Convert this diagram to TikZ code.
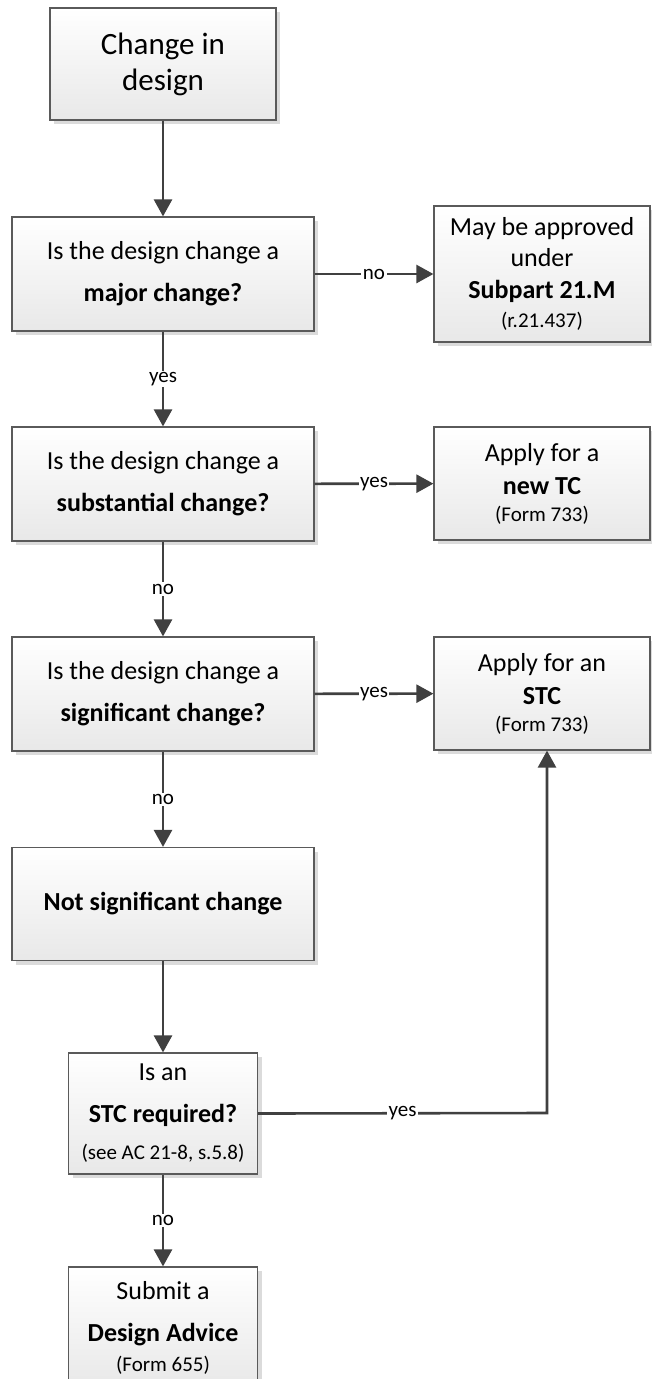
\documentclass[tikz,border=0pt]{standalone}
\usepackage{fontspec}
\setmainfont{Carlito}
\usetikzlibrary{arrows.meta,shadows}
\definecolor{edgecol}{HTML}{404040}
\definecolor{bordcol}{HTML}{5A5A5A}
\tikzset{
  box/.style={draw=bordcol, line width=1.2pt, top color=white, bottom color=black!9,
    drop shadow={shadow xshift=4pt, shadow yshift=-4pt, fill=black!14, opacity=1},
    inner sep=0pt, align=center, text=black, font=\fontsize{26}{42}\selectfont},
  conn/.style={draw=edgecol, line width=2.6pt, -{Triangle[length=17pt,width=18pt]}},
  plain/.style={draw=edgecol, line width=2.6pt},
  lab/.style={fill=white, inner sep=1.5pt, text=black, font=\fontsize{21}{25}\selectfont},
}
\begin{document}
\begin{tikzpicture}[x=1pt,y=-1pt]
\useasboundingbox (0,0) rectangle (652,1379);
\clip (0,0) rectangle (652,1379);
\fill[white] (0,0) rectangle (652,1379);

\node[box, minimum width=226pt, minimum height=112pt, font=\fontsize{31}{36}\selectfont] (b1) at (163,64) {Change in\\design};
\node[box, minimum width=302pt, minimum height=114pt] (b2) at (163,274) {Is the design change a\\\textbf{major change?}};
\node[box, minimum width=302pt, minimum height=114pt] (b3) at (163,484) {Is the design change a\\\textbf{substantial change?}};
\node[box, minimum width=302pt, minimum height=114pt] (b4) at (163,694) {Is the design change a\\\textbf{significant change?}};
\node[box, minimum width=302pt, minimum height=113pt] (b5) at (163,904) {\textbf{Not significant change}};
\node[box, minimum width=189pt, minimum height=121pt] (b6) at (163,1113.5) {Is an\\\textbf{STC required?}\\[-5pt]{\fontsize{21}{25}\selectfont(see AC 21-8, s.5.8)}};
\node[box, minimum width=189pt, minimum height=121pt] (b7) at (163,1327.5) {Submit a\\\textbf{Design Advice}\\[-12pt]{\fontsize{21}{25}\selectfont(Form 655)}};

\node[box, minimum width=216pt, minimum height=136pt, font=\fontsize{26}{31.5}\selectfont] (r1) at (542,274) {May be approved\\under\\\textbf{Subpart 21.M}\\[-2pt]{\fontsize{21}{25}\selectfont(r.21.437)}};
\node[box, minimum width=216pt, minimum height=113pt, font=\fontsize{26}{33}\selectfont] (r2) at (542,483.5) {Apply for a\\\textbf{new TC}\\[-6pt]{\fontsize{21}{25}\selectfont(Form 733)}};
\node[box, minimum width=216pt, minimum height=113pt, font=\fontsize{26}{33}\selectfont] (r3) at (542,693.5) {Apply for an\\\textbf{STC}\\[-6pt]{\fontsize{21}{25}\selectfont(Form 733)}};

\coordinate (c1) at (547,1113);

\draw[conn] (b1) -- (b2);
\draw[conn] (b2) -- node[lab]{no} (r1);
\draw[conn] (b2) -- node[lab]{yes} (b3);
\draw[conn] (b3) -- node[lab]{yes} (r2);
\draw[conn] (b3) -- node[lab]{no} (b4);
\draw[conn] (b4) -- node[lab]{yes} (r3);
\draw[conn] (b4) -- node[lab]{no} (b5);
\draw[conn] (b5) -- (b6);
\draw[conn] (b6.east) -- node[lab]{yes} (c1) -- (c1 |- r3.south);
\draw[conn] (b6) -- node[lab]{no} (b7);
\end{tikzpicture}
\end{document}
